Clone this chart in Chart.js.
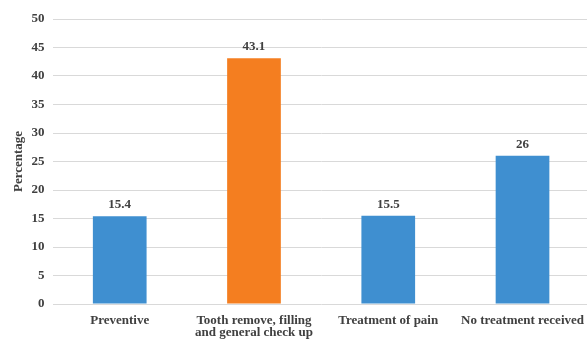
<!DOCTYPE html>
<html>
<head>
<meta charset="utf-8">
<script src="https://cdn.jsdelivr.net/npm/chart.js@4.4.1/dist/chart.umd.min.js"></script>
<style>
  html, body { margin: 0; padding: 0; background: #fff; overflow: hidden; }
  #wrap { width: 594px; height: 340px; position: relative; }
</style>
</head>
<body>
<div id="wrap"><canvas id="c"></canvas></div>
<script>
const categories = [
  'Preventive',
  ['Tooth remove, filling', 'and general check up'],
  'Treatment of pain',
  'No treatment received'
];
const percentages = [15.4, 43.1, 15.5, 26];
const barColors = ['#3F8FD0', '#F47E20', '#3F8FD0', '#3F8FD0'];
const yTicks = [0, 5, 10, 15, 20, 25, 30, 35, 40, 45, 50];

const textColor = '#404040';
const serif = "'Liberation Serif', 'Times New Roman', serif";

// Writes each bar's value just above it
const valueLabels = {
  id: 'valueLabels',
  afterDatasetsDraw(chart) {
    const ctx = chart.ctx;
    const meta = chart.getDatasetMeta(0);
    ctx.save();
    ctx.font = `bold 13px ${serif}`;
    ctx.fillStyle = textColor;
    ctx.textAlign = 'center';
    ctx.textBaseline = 'bottom';
    meta.data.forEach((bar, i) => {
      ctx.fillText(String(percentages[i]), bar.x, bar.y - 5);
    });
    ctx.restore();
  }
};

new Chart(document.getElementById('c'), {
  type: 'bar',
  data: {
    labels: categories,
    datasets: [{
      data: percentages,
      backgroundColor: barColors,
      barPercentage: 0.4,
      categoryPercentage: 1.0
    }]
  },
  options: {
    responsive: true,
    maintainAspectRatio: false,
    animation: false,
    layout: { padding: { top: 19, left: 4, right: 0, bottom: 0 } },
    plugins: { legend: { display: false }, tooltip: { enabled: false } },
    scales: {
      x: {
        grid: { display: false, drawTicks: false },
        border: { display: false },
        afterFit(axis) { axis.height = 36; },
        ticks: {
          color: textColor,
          font: { family: serif, size: 13, weight: 'bold', lineHeight: 0.95 },
          maxRotation: 0,
          autoSkip: false,
          padding: 10
        }
      },
      y: {
        min: 0,
        max: 50,
        afterBuildTicks(axis) { axis.ticks = yTicks.map(v => ({ value: v })); },
        grid: { color: '#d9d9d9', drawTicks: false, lineWidth: 1 },
        border: { display: false },
        ticks: {
          color: textColor,
          font: { family: serif, size: 13, weight: 'bold' },
          padding: 8
        },
        title: {
          display: true,
          text: 'Percentage',
          color: textColor,
          font: { family: serif, size: 13, weight: 'bold' },
          padding: { top: 7, bottom: -3 }
        }
      }
    }
  },
  plugins: [valueLabels]
});
</script>
</body>
</html>
